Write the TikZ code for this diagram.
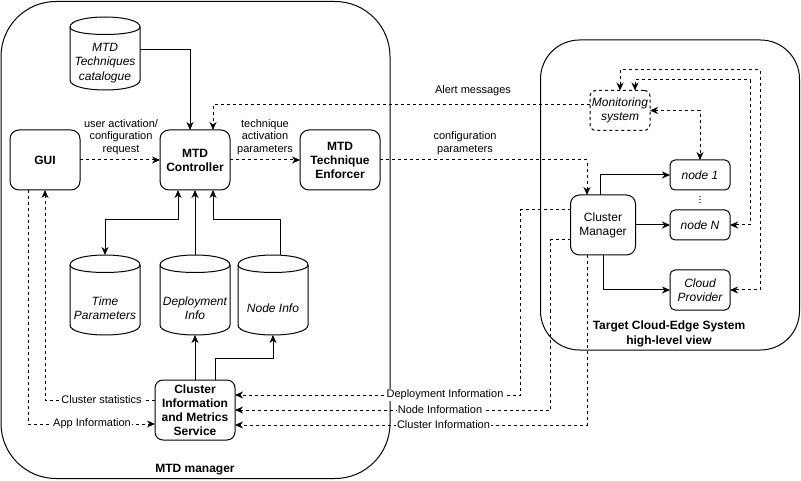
\documentclass[tikz,border=0pt]{standalone}
\usepackage{fontspec}
\setmainfont{Liberation Sans}
\usetikzlibrary{arrows.meta,calc}
\newcommand\drawcyl[1]{%
  \draw[line width=1pt] ($(#1.north west)+(0,10)$) .. controls ($(#1.north west)+(0,-3.33)$) and ($(#1.north east)+(0,-3.33)$) .. ($(#1.north east)+(0,10)$) -- ($(#1.south east)+(0,-10)$) .. controls ($(#1.south east)+(0,3.33)$) and ($(#1.south west)+(0,3.33)$) .. ($(#1.south west)+(0,-10)$) -- cycle;
  \draw[line width=1pt] ($(#1.north west)+(0,10)$) .. controls ($(#1.north west)+(0,20)$) and ($(#1.north east)+(0,20)$) .. ($(#1.north east)+(0,10)$);
}
\tikzset{
  >={Stealth[length=8pt,width=7pt,inset=2.5pt]},
  conn/.style={line width=1pt},
  dsh/.style={line width=1pt, dash pattern=on 3pt off 3pt},
  box/.style={draw, line width=1pt, rounded corners=9pt, minimum width=70pt, minimum height=60pt, align=center, inner sep=1pt, outer sep=0pt, font=\fontsize{12}{14}\selectfont\bfseries},
  plainbox/.style={draw, line width=1pt, rounded corners=5pt, minimum width=60pt, minimum height=30pt, align=center, inner sep=1pt, outer sep=0pt, font=\fontsize{12}{14}\selectfont\itshape},
  cyl/.style={minimum width=70pt, minimum height=80pt, inner sep=0pt, outer sep=0pt},
  cyltxt/.style={align=center, inner sep=0pt, font=\fontsize{12}{14.5}\selectfont\itshape},
  container/.style={draw, line width=1pt, outer sep=0pt, inner sep=0pt},
  ctitle/.style={align=center, inner sep=0pt, font=\fontsize{12}{15}\selectfont\bfseries},
  lbl/.style={align=center, inner sep=0pt, font=\fontsize{11}{12.5}\selectfont},
  lblw/.style={fill=white, inner sep=1pt, font=\fontsize{11}{12.5}\selectfont},
}
\begin{document}
\begin{tikzpicture}[x=1pt,y=-1pt]
\useasboundingbox (0,0) rectangle (801,481);
% containers
\node[container, rounded corners=55pt, minimum width=389pt, minimum height=477pt] (mgr) at (195.5,240) {};
\node[ctitle] (mgrlbl) at (195,470) {MTD manager};
\node[container, rounded corners=39pt, minimum width=259pt, minimum height=310pt] (tgt) at (670,195) {};
\node[ctitle] (tgtlbl) at (669,333.5) {Target Cloud-Edge System\\high-level view};

% MTD manager nodes
\node[box] (gui) at (45,160) {GUI};
\node[box] (ctrl) at (195,160) {MTD\\Controller};
\node[box, minimum width=80pt] (enf) at (340,160) {MTD\\Technique\\Enforcer};
\node[box, minimum width=80pt, rounded corners=8pt] (cims) at (195,410) {Cluster\\Information\\and Metrics\\Service};

\node[cyl, minimum height=73pt] (cat) at (105,53.5) {};
\drawcyl{cat}
\node[cyltxt] (cattxt) at (105,63) {MTD\\Techniques\\catalogue};
\node[cyl] (tp) at (105,295) {};
\drawcyl{tp}
\node[cyltxt] (tptxt) at (105,308) {Time\\Parameters};
\node[cyl] (di) at (195,295) {};
\drawcyl{di}
\node[cyltxt] (ditxt) at (195,308) {Deployment\\Info};
\node[cyl] (ni) at (273,295) {};
\drawcyl{ni}
\node[cyltxt] (nitxt) at (273,308) {Node Info};

% target nodes
\node[plainbox, dash pattern=on 3pt off 3pt, rounded corners=6pt, minimum height=40pt] (mon) at (620,110.5) {Monitoring\\system};
\node[box, minimum width=65pt, font=\fontsize{12}{14}\selectfont] (cm) at (603,225) {Cluster\\Manager};
\node[plainbox] (n1) at (700,175) {node 1};
\node[plainbox] (nN) at (700,225) {node N};
\node[plainbox, minimum height=40pt] (cp) at (700,290) {Cloud\\Provider};
\node[rotate=90, inner sep=0pt, font=\fontsize{11}{11}\selectfont] (dots) at (700,200) {...};

% connectors in MTD manager
\draw[conn,->] ([yshift=3.5pt]cat.east) -| ([xshift=-5pt]ctrl.north);
\draw[dsh,->] (gui) -- (ctrl);
\draw[dsh,->] (ctrl) -- (enf);
\draw[conn,<->] ([xshift=-17pt]ctrl.south) -- ++(0,30) -| (tp.north);
\draw[conn,->] (di.north) -- (ctrl.south);
\draw[conn,->] ([xshift=7pt]ni.north) -- ++(0,-35) -| ([xshift=18pt]ctrl.south);
\draw[conn,->] (cims.north) -- (di.south);
\draw[conn,->] ([xshift=20pt]cims.north) -- ++(0,-22) -| (ni.south);
\draw[dsh,->] ([yshift=10pt]cims.west) -| (gui.south);
\draw[dsh,->] ([xshift=-17pt]gui.south) |- ([yshift=-14pt]cims.west);

% connectors across
\draw[dsh,->] ([yshift=5.5pt]mon.west) -| ([xshift=18pt]ctrl.north);
\draw[dsh,->] (enf.east) -| ([xshift=-16pt]cm.north);
\draw[dsh,->] ([yshift=15pt]cm.west) -| ($(cims.east)+(285,-15)$) -- ([yshift=15pt]cims.east);
\draw[dsh,->] ([yshift=-15pt]cm.west) -| ($(cims.east)+(315,0)$) -- (cims.east);
\draw[dsh,->] ([xshift=-16pt]cm.south) |- ([yshift=-15pt]cims.east);

% connectors in target
\draw[conn,->] ([xshift=-3pt]cm.north) |- (n1.west);
\draw[conn,->] (cm.east) -- (nN.west);
\draw[conn,->] (cm.south) |- (cp.west);
\draw[dsh,<->] (mon.east) -| (n1.north);
\draw[dsh,<->] (mon.north) -- ++(0,-20.5) -| ($(cp.east)+(30,0)$) -- (cp.east);
\draw[dsh,<->] ([xshift=15pt]mon.north) -- ++(0,-10.5) -| ($(nN.east)+(20,0)$) -- (nN.east);

% labels
\node[lbl] (l1) at (121,137) {user activation/\\configuration\\request};
\node[lbl] (l2) at (265,137) {technique\\activation\\parameters};
\node[lbl] (l3) at (473,91) {Alert messages};
\node[lbl] (l4) at (465,143) {configuration\\parameters};
\node[lblw] (l5) at (101.5,400) {Cluster statistics};
\node[lblw] (l6) at (92,424) {App Information};
\node[lblw] (l7) at (445,395) {Deployment Information};
\node[lblw] (l8) at (440,410) {Node Information};
\node[lblw] (l9) at (443.5,425) {Cluster Information};
\end{tikzpicture}
\end{document}
